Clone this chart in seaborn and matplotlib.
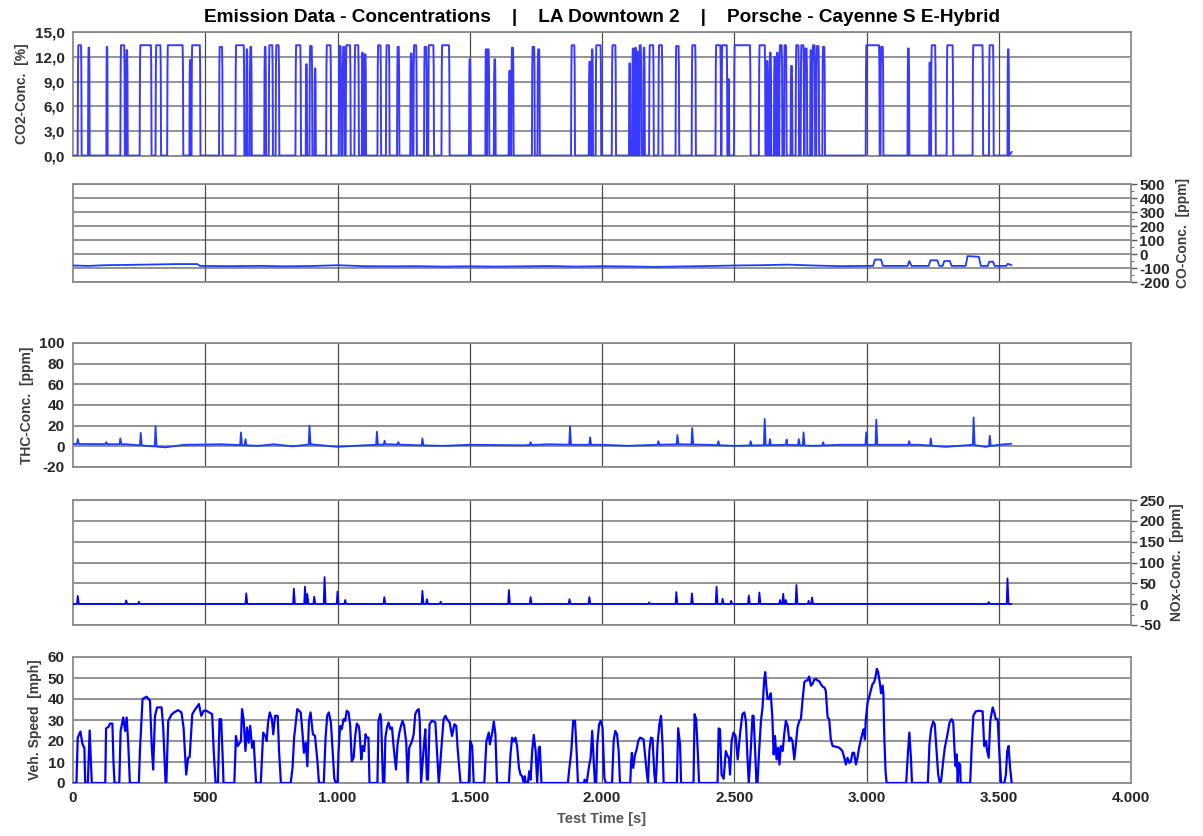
import numpy as np
import pandas as pd
import matplotlib
matplotlib.use("Agg")
import matplotlib.pyplot as plt
import seaborn as sns
from matplotlib.ticker import FixedLocator, MultipleLocator, FuncFormatter

sns.set_theme(style="white")
plt.rcParams["font.family"] = ["Liberation Sans", "DejaVu Sans"]

TITLE = "Emission Data - Concentrations    |    LA Downtown 2    |    Porsche - Cayenne S E-Hybrid"

# ---- CO2 concentration: combustion pulses (start s, end s, level %) ----
co2_on = [17.7, 56.8, 126, 179, 200, 252, 312, 356, 440, 448, 552, 614, 655, 668, 723, 740, 766,
          841, 880, 894, 913, 957, 1005, 1019, 1031, 1064, 1092, 1102, 1151, 1183, 1225,
          1275, 1287, 1327, 1343, 1393, 1497, 1559, 1565, 1591, 1647, 1657, 1735, 1756, 1883,
          1950, 1960, 1976, 2037, 2102, 2114, 2124, 2132, 2140, 2156, 2178, 2213, 2278, 2339,
          2429, 2452, 2476, 2499, 2593, 2622, 2633, 2650, 2660, 2670, 2688, 2713, 2732, 2751,
          2766, 2787, 2795, 2810, 2833, 2997, 3053, 3155, 3237, 3244, 3303, 3401, 3463, 3533]
co2_off = [32.8, 63.1, 131, 196, 207, 297, 333, 417, 446, 482, 566, 648, 660, 676, 730, 756, 780,
           862, 885, 905, 918, 976, 1014, 1028, 1050, 1081, 1097, 1108, 1165, 1197, 1234,
           1283, 1300, 1338, 1365, 1424, 1504, 1564, 1574, 1598, 1654, 1666, 1746, 1765, 1898,
           1957, 1966, 1997, 2053, 2107, 2121, 2130, 2137, 2149, 2162, 2196, 2229, 2292, 2355,
           2450, 2474, 2481, 2562, 2618, 2628, 2640, 2656, 2666, 2682, 2698, 2720, 2745, 2764,
           2776, 2792, 2806, 2821, 2843, 3050, 3064, 3162, 3241, 3262, 3328, 3441, 3481, 3539]
co2_level = [13.4, 13.1, 13.2, 13.4, 12.8, 13.4, 13.4, 13.4, 11.6, 13.4, 13.2, 13.4, 12.9, 13.2, 13.2, 13.4, 13.4,
             13.4, 11.1, 13.3, 10.6, 13.4, 13.3, 13.2, 13.4, 13.4, 12.5, 12.3, 13.4, 13.4, 13.2,
             12.4, 13.4, 13.2, 13.4, 13.4, 11.7, 12.9, 12.9, 11.7, 10.3, 13.1, 13.2, 12.9, 13.4,
             11.4, 12.9, 13.4, 13.4, 11.2, 13.0, 13.1, 12.6, 13.4, 13.1, 13.4, 13.4, 13.3, 13.4,
             13.4, 13.4, 9.3, 13.4, 13.4, 11.5, 12.5, 12.0, 12.5, 13.4, 13.4, 10.9, 13.4, 13.4,
             13.0, 12.8, 13.4, 13.3, 13.2, 13.4, 13.2, 13.0, 11.3, 13.4, 13.4, 13.4, 13.4, 12.9]
co2_end = (3549, 0.5)

# ---- CO concentration (s, ppm) ----
co_trace = [(0, -82), (60, -85), (120, -80), (200, -78), (300, -75), (390, -72), (470, -72),
            (480, -85), (600, -87), (700, -85), (800, -88), (900, -86), (1000, -80), (1100, -87),
            (1200, -88), (1300, -87), (1400, -90), (1500, -88), (1600, -90), (1700, -88),
            (1800, -86), (1900, -90), (2000, -87), (2100, -89), (2200, -92), (2300, -89),
            (2400, -86), (2500, -82), (2600, -80), (2700, -76), (2800, -82), (2900, -87),
            (3000, -85), (3025, -85), (3032, -40), (3055, -40), (3062, -85), (3155, -85),
            (3162, -50), (3170, -85), (3235, -85), (3242, -45), (3268, -45), (3275, -85),
            (3288, -85), (3294, -50), (3315, -50), (3322, -85), (3375, -85), (3382, -15),
            (3425, -20), (3432, -85), (3458, -85), (3464, -55), (3478, -55), (3485, -85),
            (3528, -85), (3534, -70), (3542, -75), (3548, -80)]

# ---- THC concentration: baseline (s, ppm) and peaks ----
thc_base = [(0, 2.3), (200, 2), (280, 0.5), (350, -1), (420, 1.5), (560, 2), (700, 0.5),
            (760, 2), (830, 0), (900, 2), (1000, -0.5), (1100, 1), (1200, 2), (1300, 1),
            (1400, 0.5), (1500, 1.5), (1700, 1), (1800, 2), (1900, 1.5), (2000, 1.5),
            (2100, 0.5), (2200, 1.5), (2300, 2), (2400, 1.5), (2500, 0.5), (2600, 1),
            (2700, 1.5), (2800, 0.5), (2900, 1.5), (3200, 1.5), (3300, -0.5), (3400, 1.5),
            (3450, -0.5), (3500, 1.5), (3548, 2.5)]
thc_peak_t = [18, 126, 179, 256, 312, 635, 652, 894, 1149, 1178, 1230, 1321, 1730, 1879, 1955,
              2213, 2285, 2341, 2440, 2562, 2615, 2635, 2698, 2744, 2762, 2836, 2999, 3037,
              3161, 3243, 3405, 3466]
thc_peak_ppm = [7, 4, 7.7, 13, 19.4, 13.5, 7, 20, 14.2, 5.5, 4, 7.7, 4, 19.4, 8.7,
                5, 11, 17.7, 5, 5, 26.5, 7, 6.5, 7, 13.5, 4, 13.5, 25.8,
                5, 7.7, 28, 10.3]

# ---- NOx concentration peaks (s, ppm) on a zero baseline ----
nox_peak_t = [18, 201, 249, 655, 835, 877, 886, 912, 951, 1000, 1029, 1177, 1321, 1338, 1390,
              1648, 1730, 1877, 1952, 2178, 2281, 2340, 2433, 2456, 2488, 2555, 2595, 2673,
              2685, 2695, 2735, 2781, 2794, 3462, 3533]
nox_peak_ppm = [20, 9, 6, 26, 37, 42, 25, 18, 65, 30, 10, 17, 32, 12, 6,
                34, 17, 12, 17, 4, 29, 26, 42, 13, 8, 21, 28, 10,
                25, 10, 46, 8, 16, 5, 62]

# ---- Vehicle speed (s, mph) ----
speed_trace = [
    (0, 0), (13, 0), (18, 21.6), (28, 24.5), (36, 18.4), (43, 16.8), (46, 0),
    (56, 0), (63, 25), (71, 0),
    (122, 0), (125, 26), (134, 26.7), (140, 28.3), (149, 28.3), (153, 10), (157, 0),
    (175, 0), (180, 24.8), (190, 31.2), (197, 24.8), (203, 31.2), (209, 18.4), (215, 0),
    (249, 0), (253, 15.2), (263, 40), (278, 41.1), (291, 39.2), (298, 16.8), (303, 6.4),
    (310, 32), (318, 36), (335, 36), (341, 26.4), (350, 0),
    (353, 0), (360, 29.6), (372, 32.5), (382, 33.6), (397, 34.7), (410, 33.6), (418, 26.4),
    (428, 4), (435, 12), (441, 12.3), (451, 32.8), (460, 34.7), (476, 37.6), (485, 32),
    (494, 34.4), (504, 34.4), (526, 32.8), (532, 15.2), (539, 0),
    (548, 0), (554, 30.4), (560, 30.4), (566, 12), (569, 0),
    (610, 0), (616, 22.4), (623, 17.6), (635, 20), (639, 35.2), (645, 30.4), (652, 15.2),
    (658, 26.4), (664, 19.2), (670, 27.2), (677, 16.8), (683, 20), (692, 0),
    (710, 0), (719, 24), (727, 22.4), (732, 20), (738, 29.3), (744, 33.6), (752, 30.4),
    (757, 23.2), (764, 32), (774, 32), (779, 15.2), (786, 0),
    (823, 0), (830, 7.2), (836, 21.6), (848, 35.2), (861, 33.6), (867, 24.8), (873, 14.4),
    (880, 19.2), (886, 8), (892, 29.6), (898, 33.6), (907, 23.2), (915, 22.4), (924, 10.4), (930, 0),
    (948, 0), (955, 21.6), (961, 32), (967, 33.6), (975, 29), (982, 14), (988, 2), (994, 0),
    (1000, 0), (1004, 15.2), (1010, 27.2), (1016, 25.6), (1023, 30.4), (1029, 29.6), (1035, 34.4),
    (1042, 33.6), (1048, 27.2), (1054, 10.4), (1061, 12), (1067, 22.4), (1073, 28.3), (1080, 27.2),
    (1083, 24.8), (1090, 11.2), (1095, 17.6), (1101, 15.2), (1106, 23.2), (1111, 21.6), (1117, 21.6), (1121, 0),
    (1151, 0), (1155, 29.6), (1162, 32.8), (1165, 29.6), (1172, 0),
    (1177, 0), (1181, 21.6), (1187, 26.4), (1193, 28.8), (1200, 25.6), (1206, 26.4), (1212, 17.6),
    (1221, 6.4), (1227, 18.4), (1234, 24), (1240, 27.2), (1246, 29.6), (1252, 27.2), (1260, 19.2), (1265, 0),
    (1271, 16.8), (1282, 20), (1288, 23.2), (1294, 32.8), (1300, 34.4), (1307, 35.2), (1311, 29.6), (1316, 0),
    (1326, 16.8), (1332, 25.6), (1338, 1.6), (1342, 1.6), (1348, 28), (1357, 29.6), (1364, 29.3),
    (1370, 28.8), (1376, 15.2), (1383, 0),
    (1395, 20), (1401, 30.4), (1408, 32), (1414, 30.4), (1424, 28.8), (1433, 22.4), (1442, 28),
    (1449, 27.2), (1454, 16.8), (1465, 0),
    (1496, 0), (1502, 20), (1509, 17.6), (1515, 0),
    (1555, 0), (1563, 20), (1572, 24), (1576, 18.4), (1585, 24), (1591, 29.3), (1597, 23.2), (1603, 0),
    (1648, 0), (1654, 13.6), (1660, 21.6), (1667, 19.7), (1673, 21.6), (1679, 17.6), (1686, 7.2),
    (1692, 4), (1698, 3.2), (1704, 0), (1708, 3.2), (1712, 0), (1720, 0), (1725, 5.6), (1730, 1.6),
    (1736, 15.2), (1742, 22.9), (1749, 15.2), (1755, 0), (1761, 16.8), (1765, 17.3), (1771, 0),
    (1871, 0), (1876, 6.4), (1884, 15.2), (1891, 29.6), (1898, 29.6), (1904, 15.2), (1909, 0),
    (1932, 0), (1934, 1.6), (1942, 0), (1951, 8), (1957, 12), (1963, 24.8), (1967, 15.2), (1973, 0),
    (1978, 0), (1982, 18.4), (1989, 28), (1995, 29.6), (2002, 26.4), (2009, 2.4), (2015, 0),
    (2038, 0), (2044, 20), (2050, 24.8), (2057, 23.2), (2063, 15.2), (2068, 0),
    (2107, 0), (2110, 10.4), (2113, 14.4), (2118, 7.2), (2125, 13.6), (2131, 16), (2137, 20),
    (2144, 21.6), (2150, 21.3), (2157, 20.8), (2164, 12), (2170, 4), (2174, 0), (2179, 15.2),
    (2185, 21.6), (2191, 21.3), (2198, 4), (2202, 0), (2205, 4), (2210, 18.4), (2217, 28),
    (2223, 32), (2229, 18.4), (2233, 0),
    (2283, 0), (2288, 26.1), (2295, 18.4), (2299, 0),
    (2346, 0), (2350, 32.8), (2356, 30.4), (2362, 15.2), (2367, 0),
    (2437, 0), (2441, 26), (2446, 25.6), (2452, 4), (2460, 2), (2468, 15.2), (2475, 12.8),
    (2480, 12), (2484, 4), (2490, 20), (2497, 24), (2505, 22.4), (2513, 11.2), (2523, 24.8),
    (2531, 32.8), (2538, 33.6), (2544, 29.6), (2550, 12), (2555, 0), (2563, 16.8), (2569, 32),
    (2573, 32), (2579, 15.2), (2584, 0),
    (2588, 0), (2594, 15.2), (2601, 29.6), (2607, 36), (2613, 48.8), (2617, 52.8), (2622, 44.8),
    (2626, 40), (2632, 40), (2638, 42.7), (2644, 31.2), (2649, 13.6), (2654, 22.4), (2660, 11.2),
    (2666, 16.8), (2671, 8.8), (2676, 17.6), (2683, 15.2), (2689, 23.2), (2695, 29.6), (2702, 27.2),
    (2708, 20), (2714, 21.6), (2720, 20), (2727, 11.2), (2733, 18.4), (2739, 26.4), (2746, 29.6),
    (2752, 30.4), (2758, 39.2), (2765, 48), (2771, 48.8), (2777, 48.8), (2783, 50.7), (2790, 46.4),
    (2796, 47.2), (2802, 49.1), (2809, 49.6), (2815, 48.8), (2821, 48.5), (2827, 47.2), (2834, 45.9),
    (2840, 45.6), (2846, 44), (2853, 31.2), (2859, 30.4), (2865, 20.8), (2872, 17.6), (2884, 17.3),
    (2897, 16.8), (2909, 15.2), (2916, 12), (2922, 8.8), (2928, 12), (2935, 9.6), (2941, 10.4),
    (2947, 14.4), (2953, 14.4), (2960, 8.8), (2966, 12), (2972, 16.8), (2979, 20.8), (2985, 24),
    (2989, 25.6), (2994, 20.8), (2997, 29.6), (3004, 38.4), (3010, 40.8), (3016, 44), (3023, 47.2),
    (3029, 48), (3035, 51.2), (3039, 54.4), (3044, 52.8), (3051, 47.2), (3055, 42.7), (3061, 46.4),
    (3064, 42.4), (3067, 23.2), (3072, 5.6), (3076, 0),
    (3150, 0), (3157, 15.2), (3162, 24), (3168, 12), (3172, 0),
    (3232, 0), (3238, 18.4), (3244, 25.6), (3252, 29.3), (3258, 28), (3265, 15.2), (3271, 4),
    (3277, 0), (3282, 0.8), (3290, 10.4), (3296, 16.8), (3305, 22.4), (3314, 28.8), (3322, 30.4),
    (3328, 28.8), (3333, 15.2), (3337, 8), (3341, 13.6), (3345, 0), (3348, 9.6), (3354, 8.8), (3356, 0),
    (3392, 0), (3397, 15.2), (3404, 32), (3413, 34.1), (3426, 34.4), (3439, 34.1), (3445, 17.6),
    (3452, 20), (3455, 16), (3462, 12), (3468, 29.6), (3477, 36), (3483, 33.6), (3489, 30.4),
    (3496, 30.4), (3502, 15.2), (3509, 0),
    (3521, 0), (3527, 4), (3532, 15.2), (3537, 17.6), (3543, 7.2), (3549, 0)]


# ---------------------------------------------------------------- helpers
def pulse_frame(on, off, level, base=0.05, end=None):
    pts = [(0.0, base)]
    for a, b, lv in zip(on, off, level):
        w = min(2.5, (b - a) / 3)
        pts += [(a, base), (a + w * 0.5, lv * 0.8), (a + w, lv), (b - w, lv),
                (b - w * 0.5, lv * 0.8), (b, base)]
    if end is not None:
        pts.append(end)
    pts.sort(key=lambda p: p[0])
    return pd.DataFrame(pts, columns=["t", "v"])


def peak_frame(base_pts, peak_t, peak_v):
    bt, bv = zip(*base_pts)
    pts = list(base_pts)
    for t, v in zip(peak_t, peak_v):
        b0 = np.interp(t - 3, bt, bv)
        b1 = np.interp(t + 4, bt, bv)
        pts += [(t - 3, b0), (t, v), (t + 4, b1)]
    pts.sort(key=lambda p: p[0])
    return pd.DataFrame(pts, columns=["t", "v"])


def trace_frame(trace):
    return pd.DataFrame(trace, columns=["t", "v"])


co2_df = pulse_frame(co2_on, co2_off, co2_level, end=co2_end)
co_df = trace_frame(co_trace)
thc_df = peak_frame(thc_base, thc_peak_t, thc_peak_ppm)
nox_df = peak_frame([(0, 0.5), (3548, 0.5)], nox_peak_t, nox_peak_ppm)
speed_df = trace_frame(speed_trace)

# ---------------------------------------------------------------- figure
W, H = 1203, 836
fig = plt.figure(figsize=(W / 100, H / 100), dpi=100)
fig.patch.set_facecolor("white")

left_px, right_px = 73, 1131


def add_panel(top, bottom):
    return fig.add_axes([left_px / W, 1 - bottom / H, (right_px - left_px) / W, (bottom - top) / H])


panels = [
    dict(df=co2_df, top=32, bottom=156, ylim=(0, 15), step=3, minor=1.5, side="left",
         label="CO2-Conc.  [%]", fmt=lambda v, p: f"{v:.1f}".replace(".", ","), color="#3a3aff", lw=1.4),
    dict(df=co_df, top=184, bottom=282, ylim=(-200, 500), step=100, minor=50, side="right",
         label="CO-Conc.  [ppm]", fmt=lambda v, p: f"{v:.0f}", color="#1a3cff", lw=1.3),
    dict(df=thc_df, top=343, bottom=467, ylim=(-20, 100), step=20, minor=10, side="left",
         label="THC-Conc.  [ppm]", fmt=lambda v, p: f"{v:.0f}", color="#1a3cff", lw=1.3),
    dict(df=nox_df, top=500, bottom=625, ylim=(-50, 250), step=50, minor=25, side="right",
         label="NOx-Conc.  [ppm]", fmt=lambda v, p: f"{v:.0f}", color="#0000ff", lw=1.3),
    dict(df=speed_df, top=657, bottom=783, ylim=(0, 60), step=10, minor=5, side="left",
         label="Veh. Speed  [mph]", fmt=lambda v, p: f"{v:.0f}", color="#0000ff", lw=1.6),
]

x_fmt = FuncFormatter(lambda v, p: f"{int(v):,}".replace(",", "."))

for i, pnl in enumerate(panels):
    ax = add_panel(pnl["top"], pnl["bottom"])
    ax.set_facecolor("white")
    sns.lineplot(data=pnl["df"], x="t", y="v", ax=ax, estimator=None, sort=False,
                 color=pnl["color"], lw=pnl["lw"], zorder=5)
    ax.set_xlim(0, 4000)
    ax.set_ylim(*pnl["ylim"])
    lo, hi = pnl["ylim"]
    ax.yaxis.set_major_locator(FixedLocator(np.arange(lo, hi + 0.001, pnl["step"])))
    ax.yaxis.set_minor_locator(MultipleLocator(pnl["minor"]))
    ax.yaxis.set_major_formatter(FuncFormatter(pnl["fmt"]))
    ax.xaxis.set_major_locator(MultipleLocator(500))
    ax.xaxis.set_minor_locator(MultipleLocator(250))

    # horizontal grid at each value tick, vertical grid every 500 s
    for yv in np.arange(lo, hi + 0.001, pnl["step"]):
        ax.axhline(yv, color="#8a8a8a", lw=1.3, zorder=1)
    for xv in range(500, 4000, 500):
        ax.axvline(xv, color="#4a4a4a", lw=0.9, zorder=2)

    for s in ax.spines.values():
        s.set_color("#8a8a8a")
        s.set_linewidth(1.3)

    if pnl["side"] == "right":
        ax.yaxis.tick_right()
        ax.yaxis.set_label_position("right")
    ax.tick_params(axis="y", which="major", length=4, width=1, color="#555555",
                   labelsize=11, pad=2, direction="out")
    ax.tick_params(axis="y", which="minor", length=2, width=0.8, color="#777777", direction="out")
    ax.tick_params(axis="x", which="major", length=4, width=1, color="#555555", direction="out",
                   labelsize=11, pad=2)
    ax.tick_params(axis="x", which="minor", length=2, width=0.8, color="#777777", direction="out")
    for lab in ax.get_yticklabels():
        lab.set_fontweight("bold")
    ax.set_ylabel(pnl["label"], fontsize=10, fontweight="bold", color="#3c3c3c", labelpad=4)

    if i < len(panels) - 1:
        ax.set_xticklabels([])
        ax.set_xlabel("")
    else:
        ax.xaxis.set_major_formatter(x_fmt)
        for lab in ax.get_xticklabels():
            lab.set_fontweight("bold")
        ax.set_xlabel("Test Time [s]", fontsize=10.5, fontweight="bold", color="#555555", labelpad=5)

fig.text(0.5, 1 - 18 / H, TITLE, ha="center", va="center", fontsize=13.7, fontweight="bold",
         color="black")

fig.savefig("out.png", dpi=100, facecolor="white")
